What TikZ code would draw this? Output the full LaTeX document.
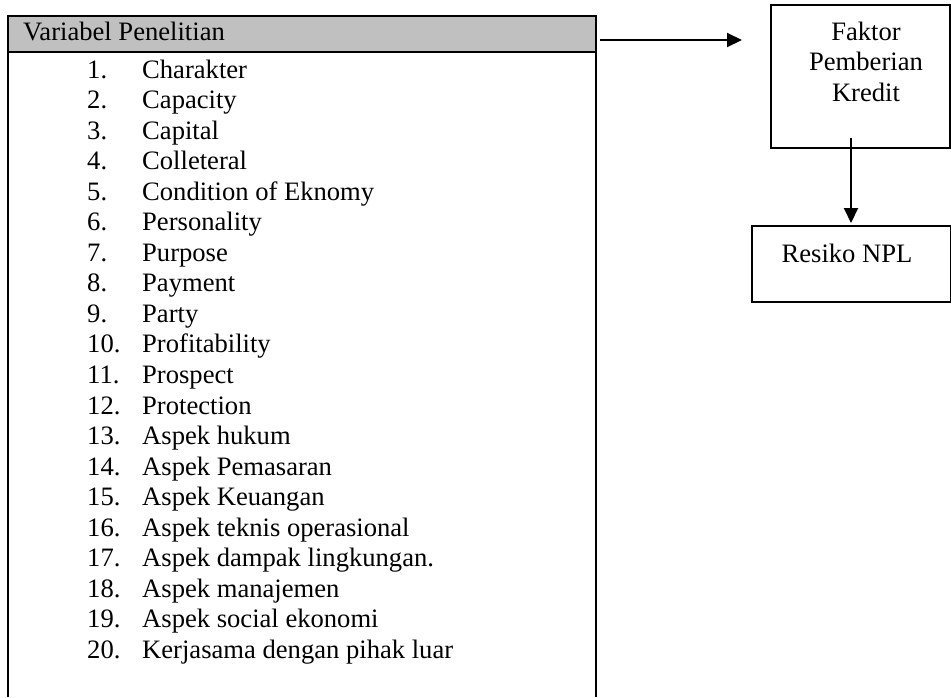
\documentclass[tikz,border=0pt]{standalone}
\usepackage{fontspec}
\setmainfont{Liberation Serif}
\usetikzlibrary{arrows.meta}
\definecolor{hdrgray}{RGB}{192,192,192}
\begin{document}
\begin{tikzpicture}[x=1pt,y=-1pt,
  boxline/.style={line width=2pt},
  plainbox/.style={draw,line width=2pt,rectangle,inner sep=0pt},
  txt/.style={inner sep=0pt,anchor=base west,font=\fontsize{26.6}{30.55}\selectfont},
  ctxt/.style={inner sep=0pt,align=center,font=\fontsize{26.6}{30.55}\selectfont},
  arr/.style={line width=2pt,-{Triangle[length=15pt,width=14pt]}}]
\useasboundingbox (0,0) rectangle (951,697);
% left box
\node[plainbox,fill=hdrgray,minimum width=588pt,minimum height=36pt] (hdr) at (302,34) {};
\draw[boxline] (8,697) -- (8,16) -- (596,16) -- (596,697);
\node[txt] (hdrtxt) at (23,40) {Variabel Penelitian};
\foreach \i/\t in {1/Charakter,2/Capacity,3/Capital,4/Colleteral,5/Condition of Eknomy,
  6/Personality,7/Purpose,8/Payment,9/Party,10/Profitability,11/Prospect,12/Protection,
  13/Aspek hukum,14/Aspek Pemasaran,15/Aspek Keuangan,16/Aspek teknis operasional,
  17/Aspek dampak lingkungan.,18/Aspek manajemen,19/Aspek social ekonomi,
  20/Kerjasama dengan pihak luar}{
  \node[txt] (num\i) at (87,{78+30.55*(\i-1)}) {\i.};
  \node[txt] (item\i) at (142,{78+30.55*(\i-1)}) {\t};
}
% right boxes
\node[plainbox,minimum width=179pt,minimum height=143pt] (faktor) at (860.5,76.5) {};
\node[ctxt,anchor=base] (faktortxt) at (866,101.1) {Faktor\\Pemberian\\Kredit};
\node[plainbox,minimum width=199pt,minimum height=76pt] (resiko) at (851,264) {};
\node[txt,anchor=base] (resikotxt) at (847,262) {Resiko NPL};
% connectors
\draw[arr,shorten <=3pt,shorten >=28pt] (hdr.east |- 0,40) -- (faktor.west |- 0,40);
\draw[arr,shorten >=2pt] ([yshift=11pt]faktor.south -| resiko.north) -- (resiko.north);
\end{tikzpicture}
\end{document}
